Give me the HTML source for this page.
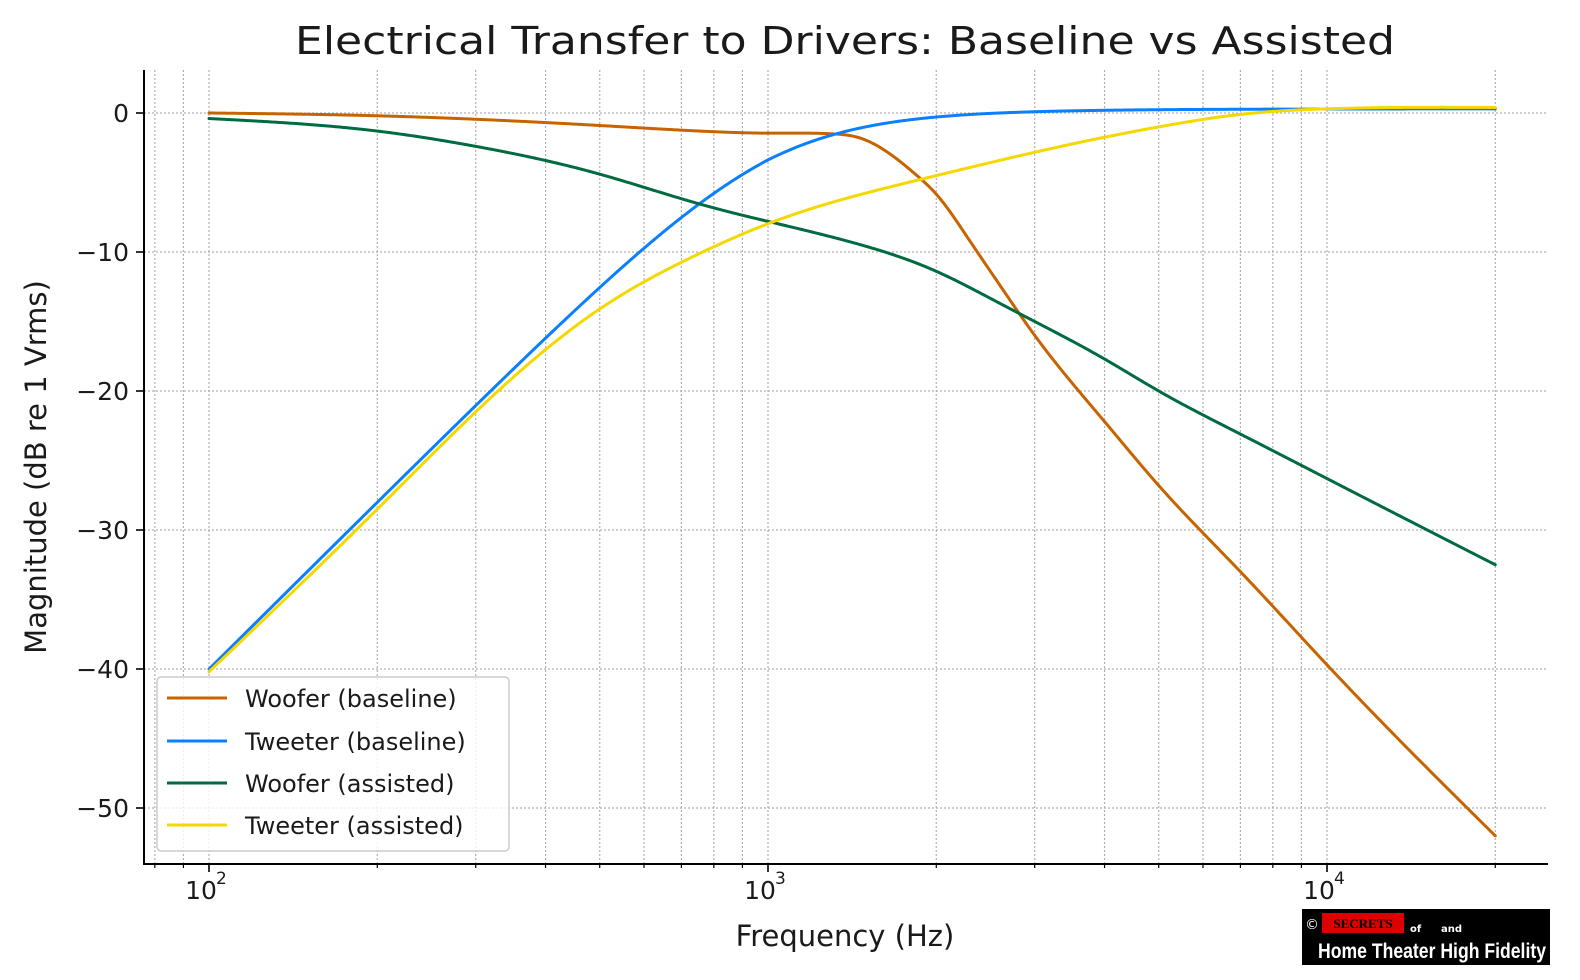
<!DOCTYPE html>
<html><head><meta charset="utf-8"><style>
html,body{margin:0;padding:0;background:#fff;}
svg{display:block;font-family:"DejaVu Sans","Liberation Sans",sans-serif;}
</style></head><body>
<svg id="s" width="1580" height="980" viewBox="0 0 1580 980" xmlns="http://www.w3.org/2000/svg">
<rect width="1580" height="980" fill="#fff"/>
<g id="grid" stroke="#b0b0b0" stroke-width="1.2" stroke-dasharray="2,2"></g>
<g id="curves" fill="none" stroke-width="3" stroke-linejoin="round" stroke-linecap="round"></g>
<g id="axes" stroke="#000" stroke-width="2"></g>
<g id="labels" fill="#1a1a1a"></g>
<text x="845" y="54" text-anchor="middle" font-size="38" fill="#1a1a1a" textLength="1100" lengthAdjust="spacingAndGlyphs">Electrical Transfer to Drivers: Baseline vs Assisted</text>
<text x="845" y="946" text-anchor="middle" font-size="29" fill="#1a1a1a">Frequency (Hz)</text>
<text transform="translate(46,467) rotate(-90)" text-anchor="middle" font-size="29" fill="#1a1a1a">Magnitude (dB re 1 Vrms)</text>
<g>
<rect x="157" y="677" width="352" height="174" rx="4" fill="#fff" fill-opacity="0.8" stroke="#ccc" stroke-width="1.5"/>
<line x1="167" y1="698" x2="227" y2="698" stroke="#c86400" stroke-width="3"/>
<line x1="167" y1="741" x2="227" y2="741" stroke="#0a80ff" stroke-width="3"/>
<line x1="167" y1="783" x2="227" y2="783" stroke="#006a40" stroke-width="3"/>
<line x1="167" y1="825" x2="227" y2="825" stroke="#f5d800" stroke-width="3"/>
<g font-size="24" fill="#1a1a1a">
<text x="245" y="707">Woofer (baseline)</text>
<text x="245" y="750">Tweeter (baseline)</text>
<text x="245" y="792">Woofer (assisted)</text>
<text x="245" y="834">Tweeter (assisted)</text>
</g></g>
<g>
<rect x="1302" y="909" width="248" height="56" fill="#000"/>
<text x="1305" y="929" font-size="14" fill="#fff">©</text>
<rect x="1322" y="913" width="82" height="20" fill="#d00"/>
<text x="1363" y="928" font-size="13" fill="#000" text-anchor="middle" font-weight="bold" font-family="Liberation Serif,serif">SECRETS</text>
<text x="1410" y="932" font-size="10" fill="#fff" font-weight="bold">of</text>
<text x="1441" y="932" font-size="10" fill="#fff" font-weight="bold">and</text>
<text x="1318" y="958" font-size="21" fill="#fff" font-weight="bold" textLength="228" lengthAdjust="spacingAndGlyphs" font-family="Liberation Sans Narrow,Liberation Sans,sans-serif">Home Theater High Fidelity</text>
</g>
</svg>
<script>
const NS="http://www.w3.org/2000/svg";
const X=f=>209+559*(Math.log10(f)-2);
const Y=d=>113-13.9*d;
function el(p,t,a,txt){const e=document.createElementNS(NS,t);for(const k in a)e.setAttribute(k,a[k]);if(txt)e.textContent=txt;document.getElementById(p).appendChild(e);return e;}
for(let dec=1;dec<=4;dec++)for(let m=1;m<10;m++){const f=m*Math.pow(10,dec);const x=X(f);if(x<144||x>1548)continue;el("grid","line",{x1:x,x2:x,y1:70,y2:864});}
for(let d=0;d>=-50;d-=10){el("grid","line",{x1:144,x2:1548,y1:Y(d),y2:Y(d)});}
el("axes","line",{x1:144,x2:144,y1:70,y2:865});
el("axes","line",{x1:143,x2:1548,y1:864,y2:864});
for(let dec=1;dec<=4;dec++)for(let m=1;m<10;m++){const f=m*Math.pow(10,dec);const x=X(f);if(x<144||x>1548)continue;el("axes","line",{x1:x,x2:x,y1:864,y2:m==1?872:868,"stroke-width":m==1?1.6:1.2});}
for(let d=0;d>=-50;d-=10){el("axes","line",{x1:136,x2:144,y1:Y(d),y2:Y(d),"stroke-width":1.6});
 el("labels","text",{x:129,y:Y(d)+9,"text-anchor":"end","font-size":25},d==0?"0":"\u2212"+(-d));}
[[2,100],[3,1000],[4,10000]].forEach(([e,f])=>{const x=X(f);el("labels","text",{x:x-8,y:899,"text-anchor":"middle","font-size":25},"10");el("labels","text",{x:x+7,y:884,"font-size":17},String(e));});
function tw(f){const r=f/1000,Q=0.655;const g=r*r/Math.sqrt((1-r*r)**2+(r/Q)**2);return 20*Math.log10(g)+0.3*Math.min(1,r*r);}
const S={
"#c86400":[[100,0],[200,-0.2],[300,-0.45],[500,-0.9],[755,-1.3],[1000,-1.45],[1306,-1.5],[1461,-1.8],[1633,-2.8],[1847,-4.5],[2006,-5.9],[2270,-8.9],[2600,-12.4],[3000,-16.0],[4000,-22.2],[5000,-26.8],[7000,-33.0],[10000,-39.7],[20000,-52]],
"#006a40":[[100,-0.4],[200,-1.3],[300,-2.4],[500,-4.4],[755,-6.55],[1000,-7.8],[1500,-9.6],[1977,-11.3],[2600,-13.7],[3000,-15.0],[4000,-17.7],[5000,-20],[7000,-23.1],[10000,-26.3],[20000,-32.5]],
"#f5d800":[[100,-40.2],[200,-28.5],[300,-21.5],[500,-14.1],[755,-10.1],[1010,-7.9],[1866,-4.8],[3935,-1.8],[5000,-1.0],[7000,-0.1],[10000,0.3],[20000,0.4]]};
function spline(pts){const n=pts.length,x=pts.map(p=>Math.log10(p[0])),y=pts.map(p=>p[1]);
const h=[];for(let i=0;i<n-1;i++)h.push(x[i+1]-x[i]);
const M=new Array(n).fill(0);
const A=[],B=[],C=[],D=[];
for(let i=1;i<n-1;i++){A.push(h[i-1]);B.push(2*(h[i-1]+h[i]));C.push(h[i]);D.push(6*((y[i+1]-y[i])/h[i]-(y[i]-y[i-1])/h[i-1]));}
const m=B.length;for(let i=1;i<m;i++){const w=A[i]/B[i-1];B[i]-=w*C[i-1];D[i]-=w*D[i-1];}
const s=new Array(m);for(let i=m-1;i>=0;i--){s[i]=(D[i]-(i<m-1?C[i]*s[i+1]:0))/B[i];}
for(let i=0;i<m;i++)M[i+1]=s[i];
return lf=>{let i=0;while(i<n-2&&lf>x[i+1])i++;const t1=x[i+1]-lf,t0=lf-x[i],hh=h[i];
return M[i]*t1*t1*t1/(6*hh)+M[i+1]*t0*t0*t0/(6*hh)+(y[i]/hh-M[i]*hh/6)*t1+(y[i+1]/hh-M[i+1]*hh/6)*t0;};}
function draw(fn,c){let s="";for(let i=0;i<=800;i++){const lf=2+i*(Math.log10(20000)-2)/800;const f=Math.pow(10,lf);s+=(i?"L":"M")+X(f).toFixed(2)+","+Y(fn(lf,f)).toFixed(2);}el("curves","path",{d:s,stroke:c});}
const ord=["#c86400","#0a80ff","#006a40","#f5d800"];
ord.forEach(c=>{if(c=="#0a80ff")draw((lf,f)=>tw(f),c);else{const g=spline(S[c]);draw(lf=>g(lf),c);}});
</script>
</body></html>
